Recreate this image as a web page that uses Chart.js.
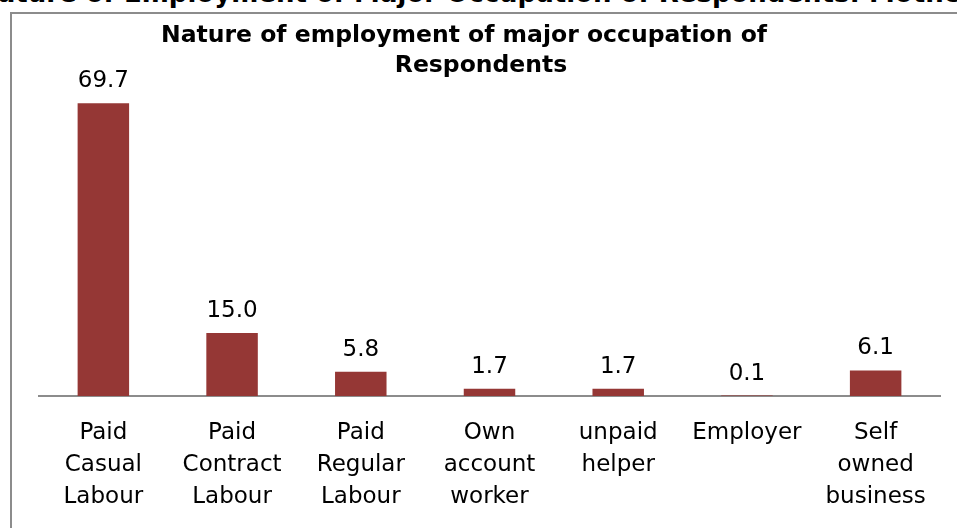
<!DOCTYPE html>
<html>
<head>
<meta charset="utf-8">
<script src="https://cdn.jsdelivr.net/npm/chart.js@4/dist/chart.umd.min.js"></script>
<style>
  html, body { margin: 0; padding: 0; background: #fff; overflow: hidden; }
  #wrap { position: relative; width: 957px; height: 528px; overflow: hidden; }
  #header {
    position: absolute; left: -24px; top: -20px;
    white-space: nowrap; color: #000;
    font: bold 26px "DejaVu Sans"; line-height: 26px;
  }
  #frame {
    position: absolute; left: 10px; top: 12px; width: 1000px; height: 600px;
    border: 2px solid #8c8c8c; box-sizing: border-box;
  }
  #chart { position: absolute; left: 0; top: 0; }
</style>
</head>
<body>
<div id="wrap">
  <div id="header">Nature of Employment of Major Occupation of Respondents: Mothers</div>
  <div id="frame"></div>
  <canvas id="chart" width="957" height="528"></canvas>
</div>

<script>
// data
const categories = [
  ["Paid", "Casual", "Labour"],
  ["Paid", "Contract", "Labour"],
  ["Paid", "Regular", "Labour"],
  ["Own", "account", "worker"],
  ["unpaid", "helper"],
  ["Employer"],
  ["Self", "owned", "business"]
];
const shares = [69.7, 15.0, 5.8, 1.7, 1.7, 0.1, 6.1];
const titleLines = ["Nature of employment of major occupation of", "Respondents"];

const barColor = "#953735";
const labelFont = '23px "DejaVu Sans"';

// title drawn by hand, Excel puts each line on its own centre
const chartTitle = {
  id: "chartTitle",
  afterDraw(chart) {
    const ctx = chart.ctx;
    ctx.save();
    ctx.font = 'bold 23.5px "DejaVu Sans"';
    ctx.fillStyle = "#000";
    ctx.textAlign = "center";
    ctx.textBaseline = "alphabetic";
    ctx.fillText(titleLines[0], 464, 42);
    ctx.fillText(titleLines[1], 481, 72);
    ctx.restore();
  }
};

// numbers above the bars
const valueLabels = {
  id: "valueLabels",
  afterDatasetsDraw(chart) {
    const ctx = chart.ctx;
    const meta = chart.getDatasetMeta(0);
    ctx.save();
    ctx.font = labelFont;
    ctx.fillStyle = "#000";
    ctx.textAlign = "center";
    ctx.textBaseline = "alphabetic";
    meta.data.forEach((bar, i) => {
      ctx.fillText(shares[i].toFixed(1), bar.x, bar.y - 16);
    });
    ctx.restore();
  }
};

new Chart(document.getElementById("chart"), {
  type: "bar",
  data: {
    labels: categories,
    datasets: [{
      data: shares,
      backgroundColor: barColor,
      borderWidth: 0,
      barPercentage: 0.8,
      categoryPercentage: 0.5
    }]
  },
  options: {
    responsive: false,
    animation: false,
    layout: { padding: { top: 60, left: 39, right: 17, bottom: -6 } },
    plugins: {
      legend: { display: false },
      title: { display: false },
      tooltip: { enabled: false }
    },
    scales: {
      x: {
        grid: { display: false, drawTicks: false },
        border: { display: true, color: "#8c8c8c", width: 2 },
        ticks: {
          color: "#000",
          padding: 21,
          font: { family: "DejaVu Sans", size: 23, lineHeight: 32 / 23 },
          maxRotation: 0,
          autoSkip: false
        }
      },
      y: {
        display: false,
        min: 0,
        max: 80
      }
    }
  },
  plugins: [chartTitle, valueLabels]
});
</script>
</body>
</html>
